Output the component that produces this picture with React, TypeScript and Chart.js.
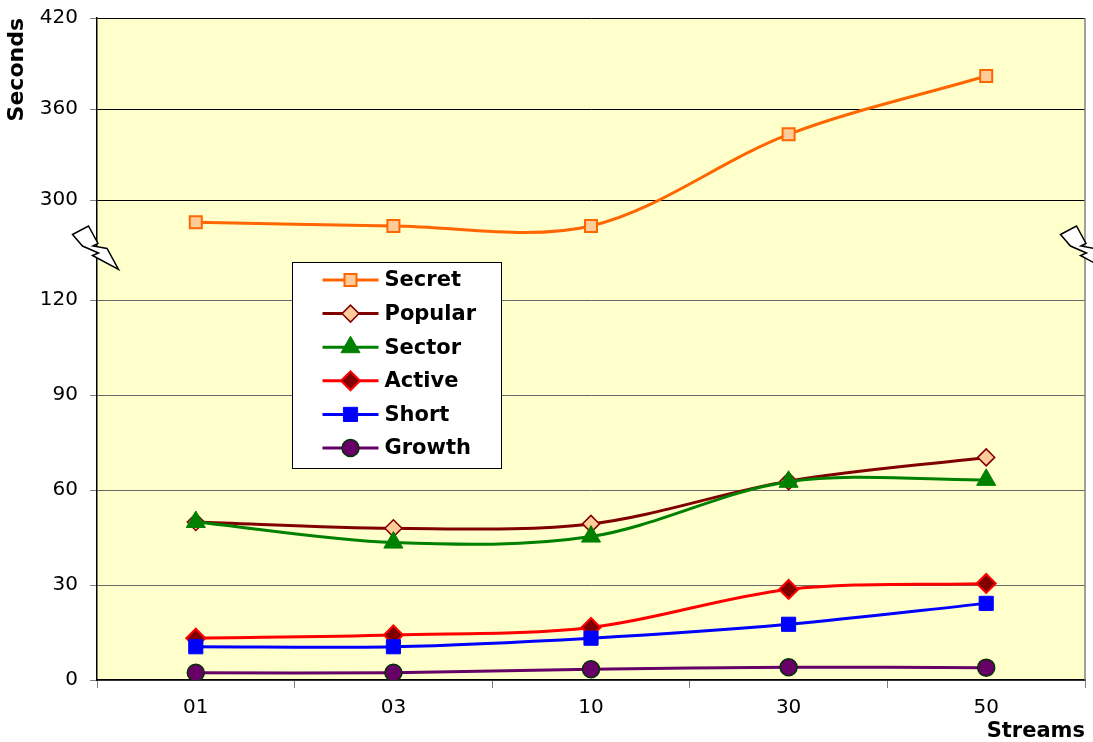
import React, { useEffect, useRef } from 'react';
import { Chart, registerables, LinearScale } from 'chart.js';

Chart.register(...registerables);

// ---------- data ----------
const categories = ['01', '03', '10', '30', '50'];
const secret = [285.3, 282.9, 282.9, 343.3, 381.8];
const popular = [49.9, 47.9, 49.3, 62.8, 70.3];
const sector = [49.9, 43.4, 45.3, 62.6, 63.2];
const active = [13.2, 14.2, 16.6, 28.6, 30.5];
const short = [10.5, 10.5, 13.2, 17.6, 24.2];
const growth = [2.3, 2.3, 3.4, 4.0, 3.9];
const yTickValues = [0, 30, 60, 90, 120, 300, 360, 420];

// ---------- broken axis mapping (0-120 lower band, upper band around 300-420) ----------
const LOW_TOP = 120;
const HIGH_BOTTOM = 300;
const AXIS_TOP = 420;
const GAP = 1.0526; // distance 120 -> 300, in lower-band grid steps
const UPPER_STEP = 0.958; // size of one 60-step in the upper band

function toAxis(v: number): number {
  if (v <= LOW_TOP) return v / 30;
  return 4 + GAP + ((v - HIGH_BOTTOM) / 60) * UPPER_STEP;
}
function fromAxis(d: number): number {
  if (d <= 4) return d * 30;
  return HIGH_BOTTOM + ((d - 4 - GAP) / UPPER_STEP) * 60;
}

class BrokenLinearScale extends LinearScale {
  static id = 'brokenLinear';
  getPixelForValue(value: any) {
    if (value === null || value === undefined || isNaN(value)) return NaN;
    return super.getPixelForValue(toAxis(value));
  }
  getValueForPixel(pixel: number) {
    return fromAxis(super.getValueForPixel(pixel) as number);
  }
}
Chart.register(BrokenLinearScale as any);

const FONT = 'DejaVu Sans';

type Series = {
  label: string;
  data: number[];
  line: string;
  fill: string;
  stroke: string;
  style: string;
  radius: number;
  bw: number;
};

const series: Series[] = [
  { label: 'Secret', data: secret, line: '#FF6600', fill: '#FFCC99', stroke: '#FF6600', style: 'rect', radius: 8.5, bw: 2 },
  { label: 'Popular', data: popular, line: '#800000', fill: '#FFCC99', stroke: '#800000', style: 'rectRot', radius: 8.5, bw: 1.5 },
  { label: 'Sector', data: sector, line: '#008000', fill: '#008000', stroke: '#008000', style: 'triangle', radius: 11, bw: 1 },
  { label: 'Active', data: active, line: '#FF0000', fill: '#800000', stroke: '#FF0000', style: 'rectRot', radius: 9.5, bw: 2 },
  { label: 'Short', data: short, line: '#0000FF', fill: '#0000FF', stroke: '#0000FF', style: 'rect', radius: 10, bw: 1 },
  { label: 'Growth', data: growth, line: '#660066', fill: '#660066', stroke: '#003300', style: 'circle', radius: 8.5, bw: 1.5 },
];

function drawMarker(ctx: CanvasRenderingContext2D, s: Series, x: number, y: number) {
  const r = s.radius;
  ctx.beginPath();
  if (s.style === 'rect') {
    const h = r * Math.SQRT1_2;
    ctx.rect(x - h, y - h, 2 * h, 2 * h);
  } else if (s.style === 'rectRot') {
    ctx.moveTo(x - r, y);
    ctx.lineTo(x, y - r);
    ctx.lineTo(x + r, y);
    ctx.lineTo(x, y + r);
    ctx.closePath();
  } else if (s.style === 'triangle') {
    ctx.moveTo(x, y - r);
    ctx.lineTo(x + 0.866 * r, y + 0.5 * r);
    ctx.lineTo(x - 0.866 * r, y + 0.5 * r);
    ctx.closePath();
  } else {
    ctx.arc(x, y, r, 0, Math.PI * 2);
  }
  ctx.fillStyle = s.fill;
  ctx.fill();
  ctx.lineWidth = s.bw;
  ctx.strokeStyle = s.stroke;
  ctx.stroke();
}

const areaPlugin = {
  id: 'areaStyle',
  beforeDraw(chart: any) {
    const { ctx, chartArea: a } = chart;
    ctx.save();
    ctx.fillStyle = '#FFFFCC';
    ctx.fillRect(a.left, a.top, a.right - a.left, a.bottom - a.top);
    ctx.restore();
  },
  beforeDatasetsDraw(chart: any) {
    const { ctx, chartArea: a } = chart;
    ctx.save();
    ctx.strokeStyle = '#808080';
    ctx.lineWidth = 1.5;
    ctx.beginPath();
    ctx.moveTo(a.right, a.top);
    ctx.lineTo(a.right, a.bottom);
    ctx.stroke();
    ctx.restore();
  },
};

// lightning-shaped axis break marks, relative to anchor on the axis line
const bolt = [
  [-24.5, -12.5], [-8.5, -21], [1, -3.5], [-4, -1], [10, 1.5], [21.5, 22.5], [-4.5, 8.5], [1.5, 6], [-14.5, -1],
];

const legendPlugin = {
  id: 'boxLegend',
  afterDraw(chart: any) {
    const { ctx, chartArea: a } = chart;
    ctx.save();
    // legend box
    const bx = a.left + 195.5;
    const by = 262.5;
    const bw = 209;
    const bh = 206;
    ctx.fillStyle = '#FFFFFF';
    ctx.fillRect(bx, by, bw, bh);
    ctx.strokeStyle = '#000000';
    ctx.lineWidth = 1;
    ctx.strokeRect(bx, by, bw, bh);
    series.forEach((s, i) => {
      const y = 280 + i * 33.6;
      ctx.strokeStyle = s.line;
      ctx.lineWidth = 3;
      ctx.beginPath();
      ctx.moveTo(bx + 30, y);
      ctx.lineTo(bx + 86, y);
      ctx.stroke();
      drawMarker(ctx, s, bx + 58, y);
      ctx.fillStyle = '#000';
      ctx.font = `bold 21px "${FONT}"`;
      ctx.textBaseline = 'middle';
      ctx.textAlign = 'left';
      ctx.fillText(s.label, bx + 92, y + 1);
    });
    // break marks
    const yScale = chart.scales.y;
    const yb = (yScale.getPixelForValue(LOW_TOP) + yScale.getPixelForValue(HIGH_BOTTOM)) / 2 - 3;
    [a.left, a.right].forEach((ax: number) => {
      ctx.beginPath();
      bolt.forEach(([dx, dy], k) => {
        if (k === 0) ctx.moveTo(ax + dx, yb + dy);
        else ctx.lineTo(ax + dx, yb + dy);
      });
      ctx.closePath();
      ctx.fillStyle = '#FFFFFF';
      ctx.fill();
      ctx.strokeStyle = '#000';
      ctx.lineWidth = 1.5;
      ctx.lineJoin = 'miter';
      ctx.stroke();
    });
    ctx.restore();
  },
};

export default function App() {
  const ref = useRef<HTMLCanvasElement | null>(null);

  useEffect(() => {
    document.body.style.margin = '0';
    if (!ref.current) return;
    Chart.defaults.font.family = FONT;
    const chart = new Chart(ref.current, {
      type: 'line',
      data: {
        labels: categories,
        datasets: series.map((s, i) => ({
          label: s.label,
          data: s.data,
          borderColor: s.line,
          backgroundColor: s.fill,
          borderWidth: 3,
          tension: 0.33,
          fill: false,
          pointStyle: s.style as any,
          pointRadius: s.radius,
          pointBackgroundColor: s.fill,
          pointBorderColor: s.stroke,
          pointBorderWidth: s.bw,
          order: series.length - i,
        })),
      },
      options: {
        responsive: false,
        animation: false,
        events: [],
        layout: { autoPadding: false, padding: { top: 18, right: 8, left: 0, bottom: 0 } },
        plugins: {
          legend: { display: false },
          tooltip: { enabled: false },
          title: { display: false },
        },
        scales: {
          x: {
            type: 'category',
            offset: true,
            afterFit: (s: any) => {
              s.height = 62;
              s.paddingLeft = 0;
              s.paddingRight = 0;
              s.paddingTop = 0;
              s.paddingBottom = 0;
            },
            grid: {
              offset: true,
              drawOnChartArea: false,
              drawTicks: true,
              tickLength: 8,
              color: '#808080',
              tickColor: '#808080',
            },
            border: { display: true, color: '#000', width: 1.5 },
            ticks: {
              padding: 8,
              color: '#000',
              maxRotation: 0,
              autoSkip: false,
              font: { family: FONT, size: 20 },
            },
            title: {
              display: true,
              text: 'Streams',
              align: 'end',
              color: '#000',
              font: { family: FONT, size: 21, weight: 'bold', lineHeight: 1 },
              padding: { top: 0, bottom: 0 },
            },
          },
          y: {
            type: 'brokenLinear' as any,
            min: 0,
            max: toAxis(AXIS_TOP),
            bounds: 'data',
            afterBuildTicks: (scale: any) => {
              scale.ticks = yTickValues.map((v) => ({ value: v }));
            },
            afterFit: (s: any) => {
              s.width = 97;
              s.paddingLeft = 0;
              s.paddingRight = 0;
              s.paddingTop = 0;
              s.paddingBottom = 0;
            },
            grid: {
              color: (c: any) => (c.tick && c.tick.value >= HIGH_BOTTOM ? '#000000' : '#686868'),
              tickColor: '#808080',
              tickLength: 7,
              lineWidth: 1,
            },
            border: { display: true, color: '#000', width: 1.5 },
            ticks: {
              autoSkip: false,
              padding: 12,
              color: '#000',
              font: { family: FONT, size: 20 },
              callback: (v: any) => String(v),
            },
            title: {
              display: true,
              text: 'Seconds',
              align: 'end',
              color: '#000',
              font: { family: FONT, size: 22, weight: 'bold', lineHeight: 1 },
              padding: { top: 6, bottom: 0 },
            },
          } as any,
        },
      },
      plugins: [areaPlugin, legendPlugin],
    });
    return () => chart.destroy();
  }, []);

  return (
    <div style={{ width: 1093, height: 742, position: 'relative' }}>
      <canvas ref={ref} width={1093} height={742} style={{ display: 'block' }} />
    </div>
  );
}
